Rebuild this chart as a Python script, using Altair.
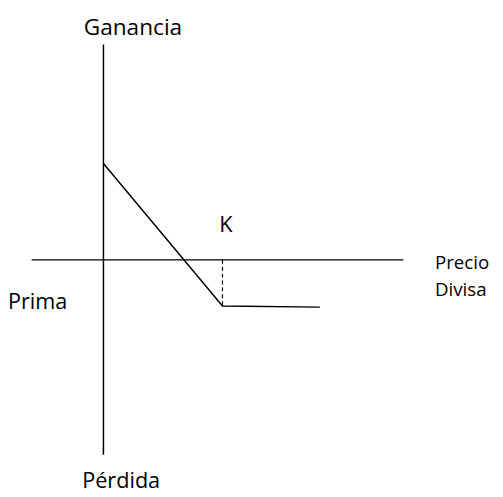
import altair as alt
import pandas as pd

# Scale extents (abstract price / profit units)
x_domain = [-8.017, 32.893]
y_domain = [-19.587, 20.826]

# Axes lines (as segments)
seg_x = [-6.03, 0.0]
seg_y = [0.0, 18.1]
seg_x2 = [25.2, 0.0]
seg_y2 = [0.0, -16.36]

# Payoff profile
payoff_x = [0.0, 10.0, 18.18]
payoff_y = [8.1, -3.88, -3.97]

# Strike dashed marker
strike_x = [10.0]
strike_y = [0.0]
strike_y2 = [-3.88]

# Labels
c_labels = ["Ganancia", "Pérdida", "K"]
c_x = [2.48, 1.49, 10.29]
c_y = [18.93, -19.17, 2.31]
c_fs = [23, 22, 22]

l_labels = ["Precio", "Divisa", "Prima"]
l_x = [27.85, 27.85, -8.02]
l_y = [-0.74, -3.06, -4.13]
l_fs = [19, 19, 22]

xs = alt.Scale(domain=x_domain, nice=False, zero=False)
ys = alt.Scale(domain=y_domain, nice=False, zero=False)

axes_df = pd.DataFrame({"x": seg_x, "y": seg_y, "x2": seg_x2, "y2": seg_y2})
axes_layer = alt.Chart(axes_df).mark_rule(color="black", strokeWidth=1.5).encode(
    x=alt.X("x:Q", scale=xs, axis=None),
    y=alt.Y("y:Q", scale=ys, axis=None),
    x2="x2:Q",
    y2="y2:Q",
)

pay_df = pd.DataFrame({"x": payoff_x, "y": payoff_y, "o": list(range(len(payoff_x)))})
pay_layer = alt.Chart(pay_df).mark_line(color="black", strokeWidth=1.5).encode(
    x=alt.X("x:Q", scale=xs, axis=None),
    y=alt.Y("y:Q", scale=ys, axis=None),
    order="o:Q",
)

strike_df = pd.DataFrame({"x": strike_x, "y": strike_y, "y2": strike_y2})
strike_layer = alt.Chart(strike_df).mark_rule(
    color="black", strokeWidth=1.2, strokeDash=[4, 3]
).encode(
    x=alt.X("x:Q", scale=xs, axis=None),
    y=alt.Y("y:Q", scale=ys, axis=None),
    y2="y2:Q",
)

c_df = pd.DataFrame({"t": c_labels, "x": c_x, "y": c_y, "fs": c_fs})
c_layer = alt.Chart(c_df).mark_text(
    align="center", baseline="alphabetic", font="Open Sans", color="black"
).encode(
    x=alt.X("x:Q", scale=xs, axis=None),
    y=alt.Y("y:Q", scale=ys, axis=None),
    text="t:N",
    size=alt.Size("fs:Q", scale=None, legend=None),
)

l_df = pd.DataFrame({"t": l_labels, "x": l_x, "y": l_y, "fs": l_fs})
l_layer = alt.Chart(l_df).mark_text(
    align="left", baseline="alphabetic", font="Open Sans", color="black"
).encode(
    x=alt.X("x:Q", scale=xs, axis=None),
    y=alt.Y("y:Q", scale=ys, axis=None),
    text="t:N",
    size=alt.Size("fs:Q", scale=None, legend=None),
)

chart = alt.layer(axes_layer, pay_layer, strike_layer, c_layer, l_layer).properties(
    width=495,
    height=489,
    autosize=alt.AutoSizeParams(type="none"),
    padding=0,
    background="white",
).configure_view(stroke=None)

chart.save("out.html", embed_options={"renderer": "svg", "actions": False})
